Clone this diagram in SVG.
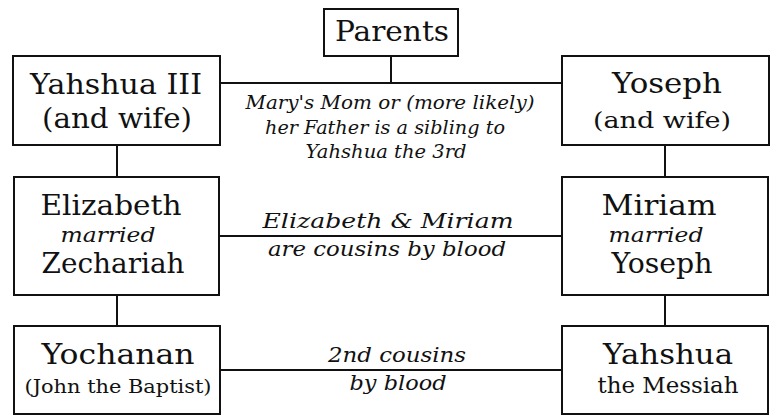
<svg xmlns="http://www.w3.org/2000/svg" width="772" height="418" viewBox="0 0 772 418">
<style>
.box{fill:#fff;stroke:#111;stroke-width:2}
.ln{stroke:#111;stroke-width:2;fill:none}
.big{font-family:"DejaVu Serif","Liberation Serif",serif;font-size:28px;fill:#111;text-anchor:middle}
.mid{font-family:"DejaVu Serif","Liberation Serif",serif;font-size:23px;fill:#111;text-anchor:middle}
.sm{font-family:"DejaVu Serif","Liberation Serif",serif;font-size:19px;fill:#111;text-anchor:middle}
.it{font-family:"DejaVu Serif","Liberation Serif",serif;font-style:italic;font-size:18px;fill:#111;text-anchor:middle}
.it2{font-family:"DejaVu Serif","Liberation Serif",serif;font-style:italic;font-size:21px;fill:#111;text-anchor:middle}
</style>
<rect width="772" height="418" fill="#fff"/>
<g id="connectors">
<line class="ln" x1="391" y1="56" x2="391" y2="83"/>
<line class="ln" x1="220" y1="83" x2="562" y2="83"/>
<line class="ln" x1="117" y1="145" x2="117" y2="177"/>
<line class="ln" x1="117" y1="295" x2="117" y2="326"/>
<line class="ln" x1="665" y1="145" x2="665" y2="177"/>
<line class="ln" x1="665" y1="295" x2="665" y2="326"/>
<line class="ln" x1="219" y1="236" x2="562" y2="236"/>
<line class="ln" x1="220" y1="370" x2="562" y2="370" stroke-width="1.6"/>
<text class="it" x="390" y="109" textLength="289" lengthAdjust="spacingAndGlyphs">Mary's Mom or (more likely)</text>
<text class="it" x="385" y="134" textLength="240" lengthAdjust="spacingAndGlyphs">her Father is a sibling to</text>
<text class="it" x="386" y="158" textLength="161" lengthAdjust="spacingAndGlyphs">Yahshua the 3rd</text>
<text class="it2" x="388" y="228" textLength="251" lengthAdjust="spacingAndGlyphs">Elizabeth &amp; Miriam</text>
<text class="it2" x="387" y="256" textLength="238" lengthAdjust="spacingAndGlyphs">are cousins by blood</text>
<text class="it2" x="397" y="362" textLength="138" lengthAdjust="spacingAndGlyphs">2nd cousins</text>
<text class="it2" x="398" y="390" textLength="97" lengthAdjust="spacingAndGlyphs">by blood</text>
</g>
<g id="parents">
<rect class="box" x="324" y="9" width="134" height="47"/>
<text class="big" x="392" y="41" textLength="114" lengthAdjust="spacingAndGlyphs">Parents</text>
</g>
<g id="yahshua3">
<rect class="box" x="13" y="56" width="207" height="89"/>
<text class="big" x="116" y="94" textLength="172" lengthAdjust="spacingAndGlyphs">Yahshua III</text>
<text class="big" x="117" y="128" textLength="150" lengthAdjust="spacingAndGlyphs">(and wife)</text>
</g>
<g id="yoseph">
<rect class="box" x="562" y="56" width="207" height="89"/>
<text class="big" x="667" y="93" textLength="110" lengthAdjust="spacingAndGlyphs">Yoseph</text>
<text class="mid" x="662" y="128" textLength="138" lengthAdjust="spacingAndGlyphs">(and wife)</text>
</g>
<g id="elizabeth">
<rect class="box" x="14" y="177" width="205" height="118"/>
<text class="big" x="111" y="215" textLength="141" lengthAdjust="spacingAndGlyphs">Elizabeth</text>
<text class="it2" x="108" y="242" textLength="95" lengthAdjust="spacingAndGlyphs">married</text>
<text class="big" x="113" y="273" textLength="143" lengthAdjust="spacingAndGlyphs">Zechariah</text>
</g>
<g id="miriam">
<rect class="box" x="562" y="177" width="206" height="118"/>
<text class="big" x="659" y="215" textLength="115" lengthAdjust="spacingAndGlyphs">Miriam</text>
<text class="it2" x="656" y="242" textLength="95" lengthAdjust="spacingAndGlyphs">married</text>
<text class="big" x="662" y="273" textLength="101" lengthAdjust="spacingAndGlyphs">Yoseph</text>
</g>
<g id="yochanan">
<rect class="box" x="14" y="326" width="206" height="88"/>
<text class="big" x="118" y="364" textLength="153" lengthAdjust="spacingAndGlyphs">Yochanan</text>
<text class="sm" x="118" y="393" textLength="187" lengthAdjust="spacingAndGlyphs">(John the Baptist)</text>
</g>
<g id="yahshua">
<rect class="box" x="562" y="326" width="206" height="88"/>
<text class="big" x="668" y="364" textLength="130" lengthAdjust="spacingAndGlyphs">Yahshua</text>
<text class="mid" x="668" y="393" textLength="141" lengthAdjust="spacingAndGlyphs">the Messiah</text>
</g>
</svg>
